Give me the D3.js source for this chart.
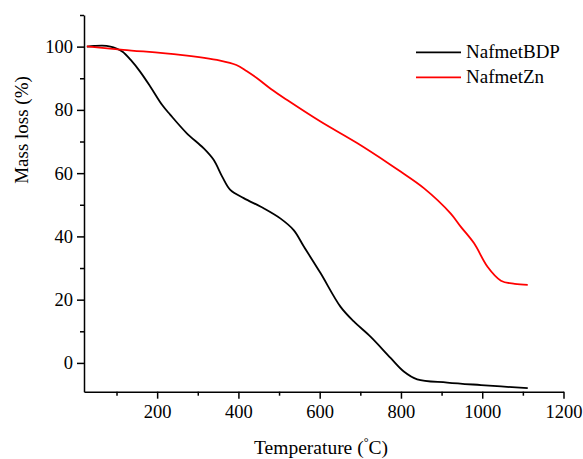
<!DOCTYPE html>
<html>
<head>
<meta charset="utf-8">
<script src="https://cdn.jsdelivr.net/npm/d3@7"></script>
<style>
  body { margin: 0; background: #fff; }
</style>
</head>
<body>
<svg></svg>
<script>
// series
let seriesNames = ["NafmetBDP", "NafmetZn"];
let seriesColors = ["#000000", "#ff0000"];

let tempBDP = [27, 45, 65, 85, 100, 115, 135, 158, 183, 212, 232, 273, 314, 339, 360, 380, 413, 462, 503, 536, 561, 602, 651, 684, 725, 775, 807, 840, 914, 997, 1112];
let massBDP = [100, 100.2, 100.3, 100, 99.4, 98.4, 95.8, 92.1, 87.4, 81.6, 78.5, 72.6, 67.9, 64.2, 58.9, 54.7, 52.1, 48.9, 45.7, 42.0, 36.8, 28.4, 17.8, 13.1, 8.3, 1.5, -2.7, -5.2, -6.2, -7.0, -8.0];

let tempZn = [27, 117, 257, 355, 395, 420, 446, 480, 520, 602, 692, 775, 799, 857, 922, 947, 980, 1013, 1046, 1080, 1112];
let massZn = [100.1, 99, 97.4, 95.6, 94.2, 92.3, 90.0, 86.6, 83.1, 76.3, 69.5, 62.6, 60.5, 55.2, 47.3, 43.1, 37.8, 30.4, 26, 25, 24.7];

let xMajor = [200, 400, 600, 800, 1000, 1200];
let xMinor = [100, 300, 500, 700, 900, 1100];
let yMajor = [0, 20, 40, 60, 80, 100];
let yMinor = [10, 30, 50, 70, 90, 110];

let width = 583;
let height = 459;
let plotLeft = 84;
let plotRight = 563.5;
let plotTop = 15;
let plotBottom = 391.7;
let fontList = "'Liberation Serif', 'Times New Roman', serif";

let svg = d3.select("svg").attr("width", width).attr("height", height);

let xScale = d3.scaleLinear().domain([20, 1200]).range([plotLeft, plotRight]);
let yScale = d3.scaleLinear().domain([-9.1, 110]).range([plotBottom, plotTop]);

// axes
let xAxis = svg.append("g").attr("transform", `translate(0, ${plotBottom})`);
xAxis.call(d3.axisBottom(xScale).tickValues(xMajor).tickSize(7).tickSizeOuter(0).tickPadding(6).tickFormat(d3.format("d")));
xAxis.append("g").call(d3.axisBottom(xScale).tickValues(xMinor).tickSize(4).tickSizeOuter(0).tickFormat(""))
     .select(".domain").remove();

let yAxis = svg.append("g").attr("transform", `translate(${plotLeft}, 0)`);
yAxis.call(d3.axisLeft(yScale).tickValues(yMajor).tickSize(7).tickSizeOuter(0).tickPadding(4).tickFormat(d3.format("d")));
yAxis.append("g").call(d3.axisLeft(yScale).tickValues(yMinor).tickSize(4).tickSizeOuter(0).tickFormat(""))
     .select(".domain").remove();

svg.selectAll("g").attr("font-family", fontList);
svg.selectAll(".domain, .tick line").attr("stroke", "#000").attr("stroke-width", 1.5);
svg.selectAll(".tick text").attr("font-size", 18.5).attr("fill", "#000");

// axis titles
svg.append("text")
   .attr("transform", "translate(28, 130) rotate(-90)")
   .attr("text-anchor", "middle")
   .attr("font-family", fontList)
   .attr("font-size", 19)
   .text("Mass loss (%)");

let xt = svg.append("text")
   .attr("x", 321)
   .attr("y", 454)
   .attr("text-anchor", "middle")
   .attr("font-family", fontList)
   .attr("font-size", 19.5);
xt.append("tspan").text("Temperature (");
xt.append("tspan").attr("font-size", 12).attr("dy", -8).text("°");
xt.append("tspan").attr("dy", 8).text("C)");

// curves
let line = d3.line()
  .x(d => xScale(d[0]))
  .y(d => yScale(d[1]))
  .curve(d3.curveCatmullRom.alpha(0.5));

let dataBDP = tempBDP.map((t, i) => [t, massBDP[i]]);
let dataZn = tempZn.map((t, i) => [t, massZn[i]]);

[dataBDP, dataZn].forEach((data, i) => {
  svg.append("path")
     .datum(data)
     .attr("fill", "none")
     .attr("stroke", seriesColors[i])
     .attr("stroke-width", 1.8)
     .attr("d", line);
});

// legend
let legend = svg.append("g").attr("font-family", fontList);
seriesNames.forEach((name, i) => {
  let y = 52.3 + i * 25;
  legend.append("line")
        .attr("x1", 416).attr("x2", 461)
        .attr("y1", y).attr("y2", y)
        .attr("stroke", seriesColors[i])
        .attr("stroke-width", 1.8);
  legend.append("text")
        .attr("x", 466)
        .attr("y", y + 6)
        .attr("font-size", 19)
        .text(name);
});
</script>
</body>
</html>
